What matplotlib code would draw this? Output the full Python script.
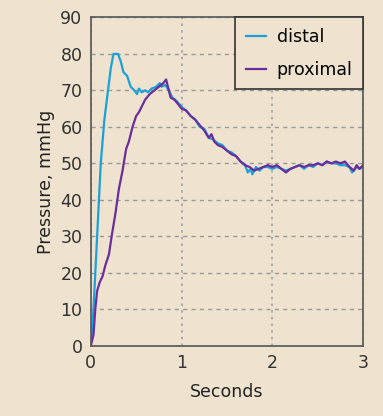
import matplotlib
matplotlib.use("Agg")
import matplotlib.pyplot as plt

distal_t = [0, 0.03, 0.07, 0.11, 0.15, 0.19, 0.22, 0.25, 0.30, 0.33, 0.36, 0.40, 0.44, 0.48, 0.51,
            0.53, 0.56, 0.60, 0.63, 0.67, 0.72, 0.76, 0.78, 0.82, 0.86, 0.90, 0.95, 1.00, 1.05,
            1.10, 1.15, 1.20, 1.25, 1.30, 1.35, 1.40, 1.45, 1.50, 1.55, 1.60, 1.65, 1.70, 1.73,
            1.76, 1.78, 1.82, 1.86, 1.90, 1.95, 2.00, 2.05, 2.10, 2.15, 2.20, 2.25, 2.30, 2.35,
            2.40, 2.45, 2.50, 2.55, 2.60, 2.65, 2.70, 2.75, 2.80, 2.85, 2.88, 2.92, 2.96, 3.00]
distal_p = [0, 10, 30, 50, 62, 70, 76, 80, 80, 78, 75, 74, 71, 70, 69,
            70.5, 69.5, 70, 69.5, 70.5, 71, 72, 71, 71.5, 70, 68, 67, 65.5, 64.5,
            63, 62, 60, 59.5, 57, 56.5, 55.5, 55, 53.5, 53, 52, 50.5, 49.5, 47.5,
            48.5, 47, 49, 48, 49, 49, 48.5, 49, 48.5, 48, 48.5, 49, 49.5, 48.5,
            49.5, 49, 50, 49.5, 50.5, 50, 50, 49.5, 49.5, 49, 47.5, 49, 48.5, 49]

prox_t = [0, 0.03, 0.05, 0.07, 0.10, 0.13, 0.16, 0.20, 0.23, 0.27, 0.31, 0.35, 0.39, 0.42, 0.46,
          0.50, 0.53, 0.57, 0.60, 0.65, 0.70, 0.75, 0.80, 0.83, 0.85, 0.88, 0.92, 0.97, 1.00,
          1.05, 1.10, 1.15, 1.20, 1.25, 1.30, 1.33, 1.36, 1.40, 1.45, 1.50, 1.55, 1.60, 1.65,
          1.70, 1.75, 1.80, 1.85, 1.90, 1.95, 2.00, 2.05, 2.10, 2.15, 2.20, 2.25, 2.30, 2.35,
          2.40, 2.45, 2.50, 2.55, 2.60, 2.65, 2.70, 2.75, 2.80, 2.85, 2.90, 2.93, 2.96, 3.00]
prox_p = [0, 3, 10, 15, 17.5, 19, 22, 25, 30, 36, 43, 48, 54, 56, 60,
          63, 64, 66, 67.5, 69, 70, 71, 72, 73, 71, 68, 67.5, 66, 65,
          64.5, 63, 62, 60.5, 59, 57, 58, 56, 55, 54.5, 53.5, 52.5, 52, 50.5,
          49.5, 49, 48, 48.5, 49, 49.5, 49, 49.5, 48.5, 47.5, 48.5, 49, 49.5, 49,
          49.5, 49.5, 50, 49.5, 50.5, 50, 50.5, 50, 50.5, 49, 48, 49.5, 48.5, 49.5]

x_ticks = [0, 1, 2, 3]
y_ticks = [0, 10, 20, 30, 40, 50, 60, 70, 80, 90]

bg = "#EFE3CF"
fig = plt.figure(figsize=(3.83, 4.16), dpi=100, facecolor=bg)
ax = fig.add_axes([0.237, 0.169, 0.711, 0.789], facecolor=bg)

ax.plot(distal_t, distal_p, color="#1BA1DA", lw=1.6, label="distal")
ax.plot(prox_t, prox_p, color="#6A2D9A", lw=1.6, label="proximal")

ax.set_xlim(0, 3)
ax.set_ylim(0, 90)
ax.set_xticks(x_ticks)
ax.set_yticks(y_ticks)
ax.tick_params(length=0, labelsize=12.5, labelcolor="#333333", pad=6)
ax.xaxis.grid(True, linestyle=(0, (1.5, 2.5)), color="#A0A0A0", lw=1.2)
ax.yaxis.grid(True, linestyle=(0, (3, 3)), color="#999999", lw=1.0)
ax.set_axisbelow(True)
for s in ax.spines.values():
    s.set_color("#555555")
    s.set_linewidth(1.2)

ax.set_xlabel("Seconds", fontsize=12.5, color="#222222", labelpad=8)
ax.set_ylabel("Pressure, mmHg", fontsize=12.5, color="#222222", labelpad=4)

leg = ax.legend(loc="upper right", borderaxespad=0, fontsize=12.5, frameon=True,
                fancybox=False, edgecolor="#333333", facecolor=bg, framealpha=1,
                handlelength=1.2, handletextpad=0.6, borderpad=0.6, labelspacing=0.85)
leg.get_frame().set_linewidth(1.2)

fig.savefig("out.png", dpi=100, facecolor=bg)
